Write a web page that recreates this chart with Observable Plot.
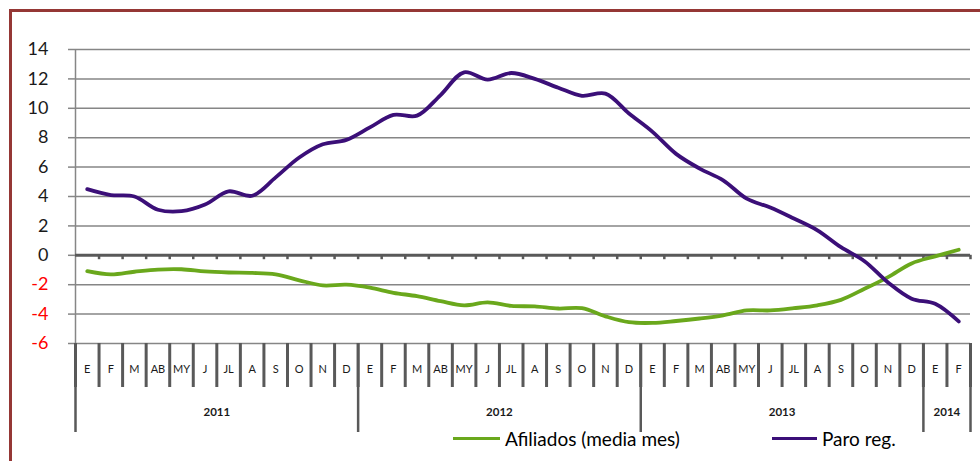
<!DOCTYPE html>
<html>
<head>
<meta charset="utf-8">
<script src="https://cdn.jsdelivr.net/npm/d3@7"></script>
<script src="https://cdn.jsdelivr.net/npm/@observablehq/plot@0.6"></script>
<style>
  html, body { margin: 0; padding: 0; background: #fff; }
  #wrap { position: relative; width: 980px; height: 461px; overflow: hidden; font-family: Lato, "Open Sans", sans-serif; }
  #border { position: absolute; left: 9px; top: 9px; width: 1000px; height: 500px; border-left: 3px solid #953735; border-top: 3px solid #953735; }
  #chart { position: absolute; left: 0; top: 0; }
  #legend { position: absolute; top: 427px; left: 0; width: 980px; height: 22px; }
  .item { position: absolute; top: 0; height: 22px; display: flex; align-items: center; font-size: 19px; color: #000; white-space: nowrap; }
  .swatch { display: inline-block; width: 47px; height: 3px; margin-right: 5px; }
</style>
</head>
<body>
<div id="wrap">
  <div id="border"></div>
  <div id="chart"></div>
  <div id="legend"></div>
</div>
<script>
// ---- data ----
const monthNames = ["E","F","M","AB","MY","J","JL","A","S","O","N","D"];
const years = ["2011","2012","2013","2014"];
const monthsPerYear = [12, 12, 12, 2];
const seriesNames = ["Afiliados (media mes)", "Paro reg."];
const seriesColors = ["#6aa81c", "#3b0f78"];

const afiliados = [
  -1.08, -1.3, -1.12, -0.97, -0.95, -1.1, -1.17, -1.2, -1.3, -1.7, -2.05, -2.0,
  -2.2, -2.55, -2.78, -3.12, -3.4, -3.2, -3.44, -3.48, -3.62, -3.6, -4.15, -4.55,
  -4.6, -4.47, -4.3, -4.08, -3.75, -3.75, -3.6, -3.4, -3.03, -2.28, -1.48, -0.55,
  -0.07, 0.38
];
const paro = [
  4.5, 4.1, 4.0, 3.1, 3.0, 3.45, 4.35, 4.05, 5.3, 6.65, 7.55, 7.85,
  8.7, 9.55, 9.5, 10.9, 12.45, 11.95, 12.4, 12.0, 11.4, 10.85, 11.0, 9.65,
  8.4, 6.9, 5.9, 5.1, 3.85, 3.25, 2.5, 1.7, 0.55, -0.4, -1.85, -2.95,
  -3.3, -4.5
];
const posTicks = [0, 2, 4, 6, 8, 10, 12, 14];
const negTicks = [-6, -4, -2];

// ---- derived ----
const monthLabels = [];
const yearStarts = [0];
monthsPerYear.forEach((n, k) => {
  for (let m = 0; m < n; m++) monthLabels.push(monthNames[m]);
  yearStarts.push(yearStarts[k] + n);
});
const N = monthLabels.length;
const centers = d3.range(N).map(i => i + 0.5);
const boundaries = d3.range(N + 1);
const yearCenters = years.map((y, k) => (yearStarts[k] + yearStarts[k + 1]) / 2);

const rows = [];
[afiliados, paro].forEach((arr, s) => arr.forEach((v, i) => rows.push({i: i + 0.5, v, s: seriesNames[s]})));

const axisGray = "#595959";
const gridGray = "#868686";

const plot = Plot.plot({
  width: 980,
  height: 461,
  marginLeft: 75,
  marginRight: 10,
  marginTop: 49,
  marginBottom: 118,
  x: {domain: [0, N], axis: null, label: null},
  y: {domain: [-6, 14], axis: null, label: null},
  color: {domain: seriesNames, range: seriesColors},
  style: {fontFamily: "Lato, 'Open Sans', sans-serif", background: "transparent", overflow: "visible"},
  marks: [
    Plot.gridY(posTicks.concat(negTicks), {stroke: gridGray, strokeOpacity: 1, strokeWidth: 1.5}),
    Plot.axisY(posTicks, {label: null, tickSize: 7, tickPadding: 20, fontSize: 18, stroke: gridGray, strokeWidth: 1.5, fill: "#1a1a1a", tickFormat: d => String(d)}),
    Plot.axisY(negTicks, {label: null, tickSize: 7, tickPadding: 20, fontSize: 18, stroke: gridGray, strokeWidth: 1.5, fill: "#ff0000", tickFormat: d => String(d)}),
    Plot.ruleX([0], {stroke: gridGray, strokeWidth: 1.5}),
    // month separators below axis
    Plot.axisX(boundaries, {label: null, anchor: "bottom", tickSize: 44, stroke: axisGray, strokeWidth: 3, tickFormat: () => ""}),
    // year separators
    Plot.axisX(yearStarts, {label: null, anchor: "bottom", tickSize: 89, stroke: axisGray, strokeWidth: 2.5, tickFormat: () => ""}),
    // month labels
    Plot.axisX(centers, {label: null, anchor: "bottom", tickSize: 0, tickPadding: 22, fontSize: 11, fill: "#1a1a1a", tickFormat: d => monthLabels[Math.floor(d)]}),
    // year labels
    Plot.axisX(yearCenters, {label: null, anchor: "bottom", tickSize: 0, tickPadding: 64, fontSize: 11.5, fontWeight: "bold", fill: "#1a1a1a", tickFormat: (d, k) => years[k]}),
    // zero line and its ticks
    Plot.ruleY([0], {stroke: axisGray, strokeWidth: 3}),
    Plot.ruleX(boundaries.slice(1), {y1: 0, y2: -0.3, stroke: axisGray, strokeWidth: 2.5}),
    Plot.line(rows, {x: "i", y: "v", z: "s", stroke: "s", strokeWidth: 3.8, curve: "catmull-rom"})
  ]
});
document.getElementById("chart").appendChild(plot);

// legend
const legend = document.getElementById("legend");
const legendLeft = [453, 772];
seriesNames.forEach((name, s) => {
  const item = document.createElement("div");
  item.className = "item";
  item.style.left = legendLeft[s] + "px";
  const sw = document.createElement("span");
  sw.className = "swatch";
  sw.style.background = seriesColors[s];
  if (s === 1) sw.style.width = "45px";
  item.appendChild(sw);
  item.appendChild(document.createTextNode(name));
  legend.appendChild(item);
});
</script>
</body>
</html>
